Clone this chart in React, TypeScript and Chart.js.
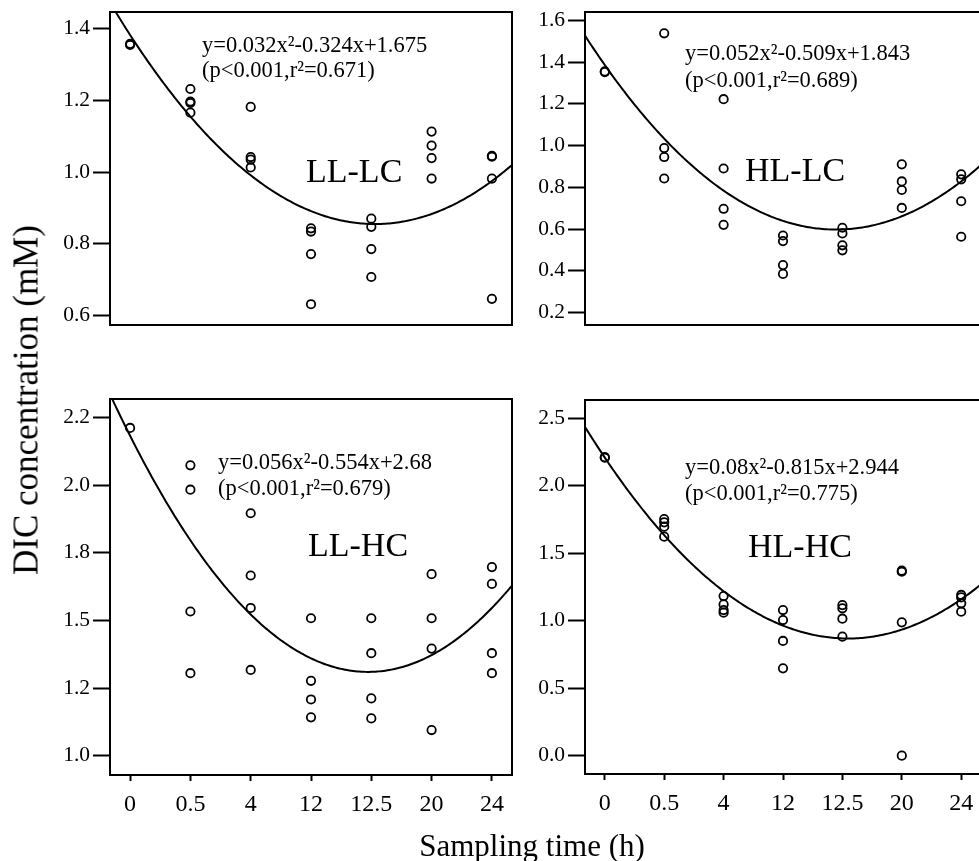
import React, { useEffect, useRef } from "react";
import { Chart, registerables } from "chart.js";

Chart.register(...registerables);

// ---------- data ----------
const timeLabels = ["0", "0.5", "4", "12", "12.5", "20", "24"];
const timeIndex = [1, 2, 3, 4, 5, 6, 7];

// DIC values (mM) per sampling time, replicate measurements
const llLcValues = [
  [1.355, 1.358],
  [1.232, 1.197, 1.193, 1.166],
  [1.182, 1.042, 1.035, 1.013],
  [0.843, 0.834, 0.771, 0.631],
  [0.87, 0.847, 0.785, 0.707],
  [1.113, 1.074, 1.039, 0.982],
  [1.045, 1.043, 0.982, 0.646],
];
const hlLcValues = [
  [1.352, 1.355],
  [1.538, 0.988, 0.945, 0.842],
  [1.222, 0.89, 0.697, 0.62],
  [0.569, 0.542, 0.427, 0.385],
  [0.606, 0.579, 0.522, 0.498],
  [0.91, 0.828, 0.787, 0.701],
  [0.862, 0.838, 0.733, 0.563],
];
const llHcValues = [
  [2.211],
  [2.073, 1.983, 1.533, 1.305],
  [1.896, 1.666, 1.546, 1.317],
  [1.508, 1.277, 1.208, 1.142],
  [1.508, 1.379, 1.212, 1.138],
  [1.671, 1.508, 1.396, 1.095],
  [1.697, 1.635, 1.379, 1.305],
];
const hlHcValues = [
  [2.208, 2.212],
  [1.754, 1.729, 1.697, 1.623],
  [1.183, 1.121, 1.079, 1.06],
  [1.079, 1.005, 0.85, 0.647],
  [1.116, 1.092, 1.015, 0.882],
  [1.371, 1.363, 0.988, 0.0],
  [1.191, 1.173, 1.129, 1.067],
];

// quadratic fit coefficients [a, b, c] : y = a x^2 + b x + c
const llLcFit = [0.032, -0.324, 1.675];
const hlLcFit = [0.052, -0.509, 1.843];
const llHcFit = [0.056, -0.554, 2.68];
const hlHcFit = [0.08, -0.815, 2.944];

const llLcEquation = ["y=0.032x²-0.324x+1.675", "(p<0.001,r²=0.671)"];
const hlLcEquation = ["y=0.052x²-0.509x+1.843", "(p<0.001,r²=0.689)"];
const llHcEquation = ["y=0.056x²-0.554x+2.68", "(p<0.001,r²=0.679)"];
const hlHcEquation = ["y=0.08x²-0.815x+2.944", "(p<0.001,r²=0.775)"];

const llLcTicks = [0.6, 0.8, 1.0, 1.2, 1.4];
const llLcTickLabels = ["0.6", "0.8", "1.0", "1.2", "1.4"];
const hlLcTicks = [0.2, 0.4, 0.6, 0.8, 1.0, 1.2, 1.4, 1.6];
const hlLcTickLabels = ["0.2", "0.4", "0.6", "0.8", "1.0", "1.2", "1.4", "1.6"];
const llHcTicks = [1.0, 1.25, 1.5, 1.75, 2.0, 2.25];
const llHcTickLabels = ["1.0", "1.2", "1.5", "1.8", "2.0", "2.2"];
const hlHcTicks = [0.0, 0.5, 1.0, 1.5, 2.0, 2.5];
const hlHcTickLabels = ["0.0", "0.5", "1.0", "1.5", "2.0", "2.5"];

// ---------- layout / style ----------
const FONT = "'Liberation Serif', 'Times New Roman', serif";
const X_MIN = 2 / 3;
const X_MAX = 7 + 1 / 3;

type PanelSpec = {
  name: string;
  values: number[][];
  fit: number[];
  equation: string[];
  ticks: number[];
  tickLabels: string[];
  yMin: number;
  yMax: number;
  rect: { l: number; t: number; r: number; b: number };
  showX: boolean;
  eqPos: { dx: number; dy1: number; dy2: number };
  labelPos: { dx: number; dy: number };
};

const panels: PanelSpec[] = [
  {
    name: "LL-LC",
    values: llLcValues,
    fit: llLcFit,
    equation: llLcEquation,
    ticks: llLcTicks,
    tickLabels: llLcTickLabels,
    yMin: 0.573,
    yMax: 1.447,
    rect: { l: 110, t: 12, r: 512, b: 385 },
    showX: false,
    eqPos: { dx: 92, dy1: 34, dy2: 59 },
    labelPos: { dx: 196, dy: 161 },
  },
  {
    name: "HL-LC",
    values: hlLcValues,
    fit: hlLcFit,
    equation: hlLcEquation,
    ticks: hlLcTicks,
    tickLabels: hlLcTickLabels,
    yMin: 0.14,
    yMax: 1.64,
    rect: { l: 585, t: 12, r: 981, b: 385 },
    showX: false,
    eqPos: { dx: 100, dy1: 42, dy2: 69 },
    labelPos: { dx: 160, dy: 160 },
  },
  {
    name: "LL-HC",
    values: llHcValues,
    fit: llHcFit,
    equation: llHcEquation,
    ticks: llHcTicks,
    tickLabels: llHcTickLabels,
    yMin: 0.929,
    yMax: 2.318,
    rect: { l: 110, t: 399, r: 512, b: 775 },
    showX: true,
    eqPos: { dx: 108, dy1: 64, dy2: 90 },
    labelPos: { dx: 198, dy: 148 },
  },
  {
    name: "HL-HC",
    values: hlHcValues,
    fit: hlHcFit,
    equation: hlHcEquation,
    ticks: hlHcTicks,
    tickLabels: hlHcTickLabels,
    yMin: -0.136,
    yMax: 2.636,
    rect: { l: 585, t: 400, r: 981, b: 774 },
    showX: true,
    eqPos: { dx: 100, dy1: 68, dy2: 94 },
    labelPos: { dx: 163, dy: 148 },
  },
];

const AXIS_W = 110;
const PAD = 20;
const X_AXIS_H = 60;

function Panel({ spec }: { spec: PanelSpec }) {
  const ref = useRef<HTMLCanvasElement | null>(null);
  const { rect } = spec;
  const width = AXIS_W + (rect.r - rect.l) + PAD;
  const height = PAD + (rect.b - rect.t) + (spec.showX ? X_AXIS_H : PAD);

  useEffect(() => {
    if (!ref.current) return;
    const points: { x: number; y: number }[] = [];
    spec.values.forEach((vals, i) => {
      vals.forEach((v) => points.push({ x: timeIndex[i], y: v }));
    });
    const curve: { x: number; y: number }[] = [];
    const [a, b, c] = spec.fit;
    const steps = 200;
    for (let i = 0; i <= steps; i++) {
      const x = X_MIN + ((X_MAX - X_MIN) * i) / steps;
      curve.push({ x, y: a * x * x + b * x + c });
    }

    const framePlugin = {
      id: "frameAndText",
      afterDraw(chart: any) {
        const { ctx, chartArea: ar } = chart;
        ctx.save();
        ctx.strokeStyle = "#000";
        ctx.lineWidth = 2;
        ctx.strokeRect(ar.left, ar.top, ar.right - ar.left, ar.bottom - ar.top);
        ctx.fillStyle = "#000";
        ctx.textAlign = "left";
        ctx.textBaseline = "middle";
        ctx.font = `22.5px ${FONT}`;
        ctx.fillText(spec.equation[0], ar.left + spec.eqPos.dx, ar.top + spec.eqPos.dy1);
        ctx.fillText(spec.equation[1], ar.left + spec.eqPos.dx, ar.top + spec.eqPos.dy2);
        ctx.font = `34px ${FONT}`;
        ctx.fillText(spec.name, ar.left + spec.labelPos.dx, ar.top + spec.labelPos.dy);
        ctx.restore();
      },
    };

    const chart = new Chart(ref.current, {
      type: "scatter",
      data: {
        datasets: [
          {
            type: "line",
            data: curve,
            borderColor: "#000",
            borderWidth: 2,
            pointRadius: 0,
            fill: false,
            tension: 0,
            clip: 0,
          } as any,
          {
            data: points,
            pointStyle: "circle",
            pointRadius: 4.2,
            pointBorderWidth: 1.8,
            pointBorderColor: "#000",
            pointBackgroundColor: "rgba(255,255,255,0)",
            borderColor: "#000",
            backgroundColor: "rgba(255,255,255,0)",
            showLine: false,
          } as any,
        ],
      },
      options: {
        animation: false,
        responsive: false,
        events: [],
        layout: {
          padding: { left: 0, top: PAD, right: PAD, bottom: spec.showX ? 0 : PAD },
        },
        plugins: {
          legend: { display: false },
          tooltip: { enabled: false },
        },
        scales: {
          x: {
            type: "linear",
            display: spec.showX,
            min: X_MIN,
            max: X_MAX,
            afterBuildTicks: (scale: any) => {
              scale.ticks = timeIndex.map((v) => ({ value: v }));
            },
            afterFit: (scale: any) => {
              scale.height = X_AXIS_H;
              scale.paddingLeft = 0;
              scale.paddingRight = 0;
            },
            border: { display: false },
            grid: {
              drawOnChartArea: false,
              drawTicks: true,
              tickLength: 6,
              tickWidth: 2,
              tickColor: "#000",
              color: "#000",
            },
            ticks: {
              autoSkip: false,
              maxRotation: 0,
              padding: 9,
              color: "#000",
              font: { family: FONT, size: 24 },
              callback: (_v: any, i: number) => timeLabels[i],
            },
          },
          y: {
            type: "linear",
            min: spec.yMin,
            max: spec.yMax,
            afterBuildTicks: (scale: any) => {
              scale.ticks = spec.ticks.map((v) => ({ value: v }));
            },
            afterFit: (scale: any) => {
              scale.width = AXIS_W;
              scale.paddingTop = 0;
              scale.paddingBottom = 0;
            },
            border: { display: false },
            grid: {
              drawOnChartArea: false,
              drawTicks: true,
              tickLength: 17,
              tickWidth: 2,
              tickColor: "#000",
              color: "#000",
            },
            ticks: {
              autoSkip: false,
              padding: 3,
              color: "#000",
              font: { family: FONT, size: 21.5 },
              callback: (_v: any, i: number) => spec.tickLabels[i],
            },
          },
        },
      } as any,
      plugins: [framePlugin],
    });
    return () => chart.destroy();
  }, [spec]);

  return (
    <canvas
      ref={ref}
      width={width}
      height={height}
      style={{
        position: "absolute",
        left: rect.l - AXIS_W,
        top: rect.t - PAD,
        width,
        height,
      }}
    />
  );
}

export default function App() {
  return (
    <div
      style={{
        position: "fixed",
        left: 0,
        top: 0,
        width: 979,
        height: 861,
        overflow: "hidden",
        background: "#fff",
      }}
    >
      {panels.map((p) => (
        <Panel key={p.name} spec={p} />
      ))}
      <div
        style={{
          position: "absolute",
          left: 26,
          top: 400,
          transform: "translate(-50%, -50%) rotate(-90deg)",
          whiteSpace: "nowrap",
          fontFamily: FONT,
          fontSize: 35,
          lineHeight: 1,
          color: "#000",
        }}
      >
        DIC concentration (mM)
      </div>
      <div
        style={{
          position: "absolute",
          left: 532,
          top: 845,
          transform: "translate(-50%, -50%)",
          whiteSpace: "nowrap",
          fontFamily: FONT,
          fontSize: 31,
          lineHeight: 1,
          color: "#000",
        }}
      >
        Sampling time (h)
      </div>
    </div>
  );
}
